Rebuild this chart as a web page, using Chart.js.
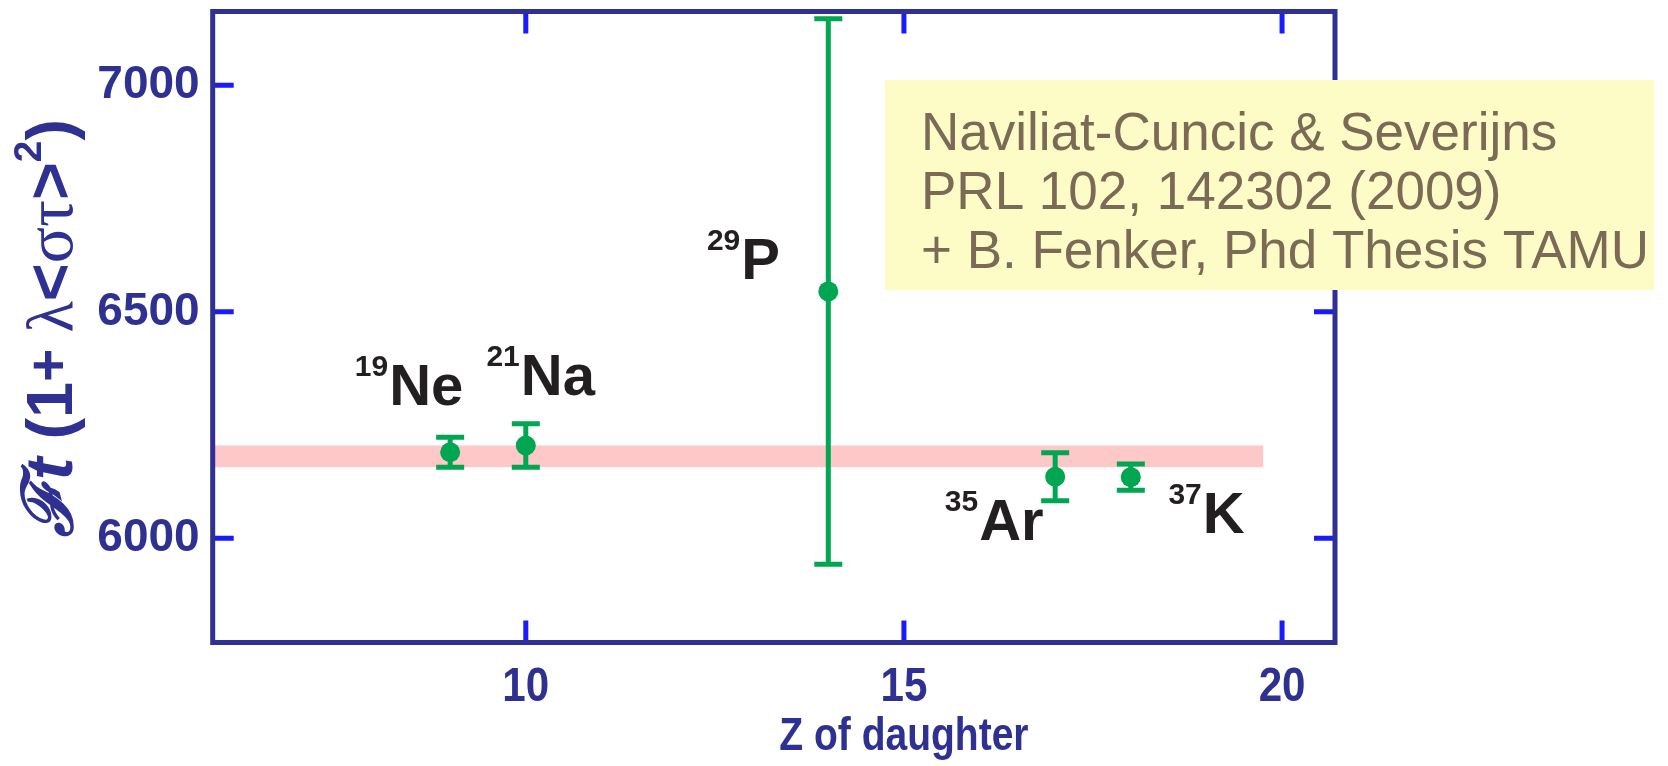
<!DOCTYPE html>
<html><head><meta charset="utf-8">
<script src="https://cdn.jsdelivr.net/npm/chart.js@4.4.1/dist/chart.umd.min.js"></script>
<style>html,body{margin:0;padding:0;background:#fff;overflow:hidden}canvas{display:block}</style>
</head><body>
<canvas id="c" width="1668" height="766" style="width:1668px;height:766px"></canvas>
<script>
// ---- data ----
const massNumbers = ['19', '21', '29', '35', '37'];
const symbols = ['Ne', 'Na', 'P', 'Ar', 'K'];
const zDaughter = [9, 10, 14, 17, 18];
const ftValues = [6190, 6205, 6545, 6136, 6135];
const ftErrors = [33, 48, 602, 53, 29];
const xTickValues = [10, 15, 20];
const yTickValues = [6000, 6500, 7000];
const bandZ = [5.86, 19.75];
const bandFt = [6157, 6205];
const referenceLines = ['Naviliat-Cuncic & Severijns', 'PRL 102, 142302 (2009)', '+ B. Fenker, Phd Thesis TAMU'];
const xTitle = 'Z of daughter';

// ---- styles ----
const navy = '#2e3192', tickBlue = '#1a1aff', green = '#00a651', pink = '#fec8c8';
const boxFill = '#fdfbc6', boxText = '#7b6a55', labelColor = '#231f20';
const SANS = '"Liberation Sans", Arial, Helvetica, sans-serif';
const SERIF = '"Liberation Serif", "Times New Roman", serif';
// label placement relative to its point, in pixels
const labelOffsets = [[-61, -47], [-5, -50], [-87, -12], [-76, 63], [72, 56]];

const custom = {
  id: 'custom',
  beforeDatasetsDraw(chart) {
    const { ctx, scales: { x, y } } = chart;
    ctx.save();
    ctx.fillStyle = pink;
    const x0 = x.getPixelForValue(bandZ[0]), x1 = x.getPixelForValue(bandZ[1]);
    const y0 = y.getPixelForValue(bandFt[1]), y1 = y.getPixelForValue(bandFt[0]);
    ctx.fillRect(x0, y0, x1 - x0, y1 - y0);
    ctx.strokeStyle = green; ctx.lineWidth = 5;
    zDaughter.forEach((z, i) => {
      const px = x.getPixelForValue(z);
      const top = y.getPixelForValue(ftValues[i] + ftErrors[i]);
      const bot = y.getPixelForValue(ftValues[i] - ftErrors[i]);
      ctx.beginPath();
      ctx.moveTo(px, top); ctx.lineTo(px, bot);
      ctx.moveTo(px - 14, top); ctx.lineTo(px + 14, top);
      ctx.moveTo(px - 14, bot); ctx.lineTo(px + 14, bot);
      ctx.stroke();
    });
    ctx.restore();
  },
  afterDraw(chart) {
    const { ctx, chartArea: a, scales: { x, y } } = chart;
    ctx.save();
    // inward ticks
    ctx.strokeStyle = tickBlue; ctx.lineWidth = 5;
    ctx.beginPath();
    yTickValues.forEach(v => {
      const py = y.getPixelForValue(v);
      ctx.moveTo(a.left, py); ctx.lineTo(a.left + 21, py);
      ctx.moveTo(a.right, py); ctx.lineTo(a.right - 21, py);
    });
    xTickValues.forEach(v => {
      const px = x.getPixelForValue(v);
      ctx.moveTo(px, a.bottom); ctx.lineTo(px, a.bottom - 22);
      ctx.moveTo(px, a.top); ctx.lineTo(px, a.top + 22);
    });
    ctx.stroke();
    // frame
    ctx.strokeStyle = navy; ctx.lineWidth = 5;
    ctx.strokeRect(a.left, a.top, a.right - a.left, a.bottom - a.top);

    // x tick labels (condensed bold)
    ctx.fillStyle = navy; ctx.textAlign = 'center'; ctx.textBaseline = 'alphabetic';
    ctx.font = 'bold 49px ' + SANS;
    xTickValues.forEach(v => {
      ctx.save();
      ctx.translate(x.getPixelForValue(v), 701);
      ctx.scale(0.86, 1);
      ctx.fillText(String(v), 0, 0);
      ctx.restore();
    });
    // x title (condensed bold)
    ctx.save();
    ctx.font = 'bold 47px ' + SANS;
    ctx.translate(x.getPixelForValue(15), 750);
    ctx.scale(0.83, 1);
    ctx.fillText(xTitle, 0, 0);
    ctx.restore();

    // nucleus labels
    ctx.fillStyle = labelColor;
    zDaughter.forEach((z, i) => {
      const px = x.getPixelForValue(z) + labelOffsets[i][0];
      const py = y.getPixelForValue(ftValues[i]) + labelOffsets[i][1];
      ctx.font = 'bold 58px ' + SANS; ctx.textAlign = 'left';
      ctx.fillText(symbols[i], px, py);
      ctx.font = 'bold 30px ' + SANS; ctx.textAlign = 'right';
      ctx.fillText(massNumbers[i], px - 1, py - 29);
    });

    // reference box
    ctx.fillStyle = boxFill;
    ctx.fillRect(885, 80, 1654 - 885, 290 - 80);
    ctx.fillStyle = boxText; ctx.textAlign = 'left';
    ctx.font = '53px ' + SANS;
    referenceLines.forEach((t, i) => ctx.fillText(t, 921, 150 + i * 59));

    // y title (rotated, mixed fonts)
    ctx.fillStyle = navy;
    const segs = [
      { t: 'ℱ', f: 'bold italic 54px "DejaVu Serif", serif', dy: 0 },
      { t: 't', f: 'bold italic 52px ' + SANS, dy: 0 },
      { t: ' (1', f: 'bold 50px ' + SANS, dy: 0 },
      { t: '+', f: 'bold 44px ' + SANS, dy: -3 },
      { t: ' λ', f: '50px ' + SERIF, dy: 0 },
      { t: '<', f: 'bold 50px ' + SANS, dy: 0 },
      { t: 'στ', f: '52px ' + SERIF, dy: 0 },
      { t: '>', f: 'bold 50px ' + SANS, dy: 0 },
      { t: '2', f: 'bold 30px ' + SANS, dy: -24 },
      { t: ')', f: 'bold 50px ' + SANS, dy: 0 }
    ];
    let total = 0;
    segs.forEach(s => { ctx.font = s.f; s.w = ctx.measureText(s.t).width; total += s.w; });
    const f = 418 / total;
    ctx.translate(72, 328);
    ctx.rotate(-Math.PI / 2);
    ctx.scale(f, f);
    ctx.textAlign = 'left';
    let cx = -total / 2;
    segs.forEach(s => { ctx.font = s.f; ctx.fillText(s.t, cx, s.dy); cx += s.w; });
    ctx.restore();
  }
};

new Chart(document.getElementById('c'), {
  type: 'scatter',
  data: {
    datasets: [{
      data: zDaughter.map((z, i) => ({ x: z, y: ftValues[i] })),
      pointRadius: 10, pointHoverRadius: 10,
      backgroundColor: green, borderWidth: 0
    }]
  },
  options: {
    responsive: false, animation: false, devicePixelRatio: 1,
    layout: { padding: { left: 0, right: 333, top: 11.5, bottom: 0 } },
    plugins: { legend: { display: false }, tooltip: { enabled: false } },
    scales: {
      x: {
        type: 'linear', min: 5.86, max: 20.70,
        afterBuildTicks(s) { s.ticks = xTickValues.map(v => ({ value: v })); },
        afterFit(s) { s.height = 123.5; s.paddingLeft = 0; s.paddingRight = 0; },
        grid: { display: false, drawTicks: false }, border: { display: false },
        ticks: { display: false }
      },
      y: {
        type: 'linear', min: 5770, max: 7163,
        afterBuildTicks(s) { s.ticks = yTickValues.map(v => ({ value: v })); },
        afterFit(s) { s.width = 212.7; s.paddingTop = 0; s.paddingBottom = 0; },
        grid: { display: false, drawTicks: false }, border: { display: false },
        ticks: { color: navy, padding: 13, font: { family: SANS, size: 46, weight: 'bold' }, callback: v => String(v) }
      }
    }
  },
  plugins: [custom]
});
</script>
</body></html>
